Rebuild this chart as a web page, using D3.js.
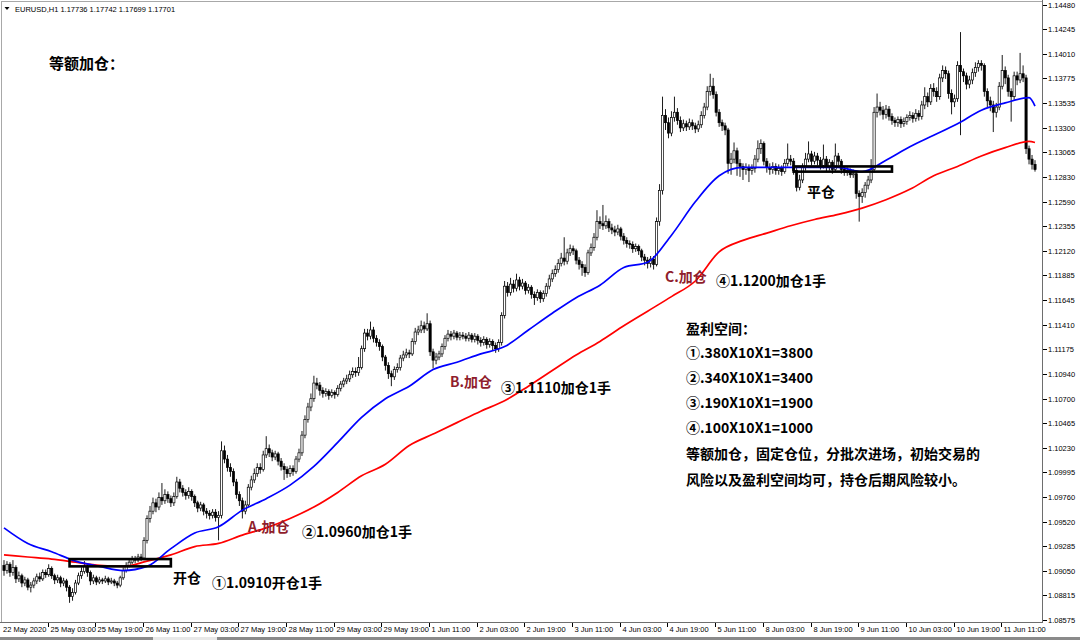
<!DOCTYPE html>
<html>
<head>
<meta charset="utf-8">
<script src="https://cdn.jsdelivr.net/npm/d3@7"></script>
<style>
  html, body { margin: 0; padding: 0; background: #fff; }
  svg { display: block; }
</style>
</head>
<body>
<script>
// ---------------- data (EURUSD H1) ----------------
const firstOpen = 1.0910;
const closes = [
1.0905,1.0911,1.0903,1.0908,1.0897,1.0900,1.0893,1.0896,1.0889,1.0891,
1.0895,1.0899,1.0897,1.0903,1.0901,1.0907,1.0900,1.0896,1.0898,1.0893,
1.0895,1.0889,1.0880,1.0884,1.0893,1.0900,1.0904,1.0909,1.0903,1.0895,
1.0898,1.0894,1.0896,1.0895,1.0897,1.0894,1.0895,1.0893,1.0891,1.0898,
1.0905,1.0910,1.0913,1.0916,1.0915,1.0918,1.0917,1.0934,1.0955,1.0962,
1.0970,1.0966,1.0975,1.0972,1.0978,1.0974,1.0970,1.0976,1.0990,1.0984,
1.0980,1.0977,1.0981,1.0976,1.0970,1.0965,1.0968,1.0962,1.0960,1.0958,
1.0961,1.0956,1.0958,1.1020,1.1012,1.1004,1.1000,1.0990,1.0978,1.0972,
1.0962,1.0968,1.0985,1.0992,1.0998,1.1004,1.1002,1.1016,1.1022,1.1018,
1.1014,1.1017,1.1010,1.1005,1.1002,1.0998,1.1003,1.1000,1.1012,1.1018,
1.1035,1.1050,1.1062,1.1070,1.1085,1.1083,1.1078,1.1075,1.1077,1.1073,
1.1076,1.1074,1.1080,1.1084,1.1087,1.1089,1.1093,1.1096,1.1095,1.1100,
1.1118,1.1133,1.1130,1.1136,1.1128,1.1124,1.1120,1.1110,1.1102,1.1094,
1.1091,1.1098,1.1100,1.1109,1.1112,1.1114,1.1113,1.1125,1.1134,1.1136,
1.1140,1.1137,1.1142,1.1115,1.1107,1.1110,1.1113,1.1120,1.1128,1.1132,
1.1130,1.1133,1.1129,1.1131,1.1130,1.1128,1.1131,1.1127,1.1130,1.1126,
1.1124,1.1127,1.1122,1.1125,1.1121,1.1118,1.1124,1.1150,1.1178,1.1172,
1.1180,1.1176,1.1184,1.1178,1.1181,1.1174,1.1177,1.1170,1.1167,1.1172,
1.1166,1.1171,1.1178,1.1185,1.1190,1.1194,1.1200,1.1205,1.1202,1.1210,
1.1214,1.1212,1.1203,1.1199,1.1196,1.1191,1.1210,1.1215,1.1225,1.1240,
1.1238,1.1236,1.1240,1.1234,1.1232,1.1230,1.1233,1.1226,1.1222,1.1219,
1.1218,1.1214,1.1216,1.1212,1.1206,1.1203,1.1200,1.1204,1.1199,1.1240,
1.1270,1.1342,1.1335,1.1325,1.1340,1.1345,1.1337,1.1330,1.1334,1.1331,
1.1335,1.1332,1.1329,1.1333,1.1342,1.1350,1.1365,1.1370,1.1362,1.1345,
1.1335,1.1332,1.1328,1.1296,1.1300,1.1308,1.1296,1.1293,1.1290,1.1292,
1.1289,1.1291,1.1300,1.1310,1.1315,1.1298,1.1292,1.1290,1.1293,1.1289,
1.1291,1.1288,1.1296,1.1300,1.1298,1.1289,1.1273,1.1280,1.1292,1.1300,
1.1305,1.1298,1.1303,1.1299,1.1294,1.1300,1.1292,1.1297,1.1290,1.1303,
1.1298,1.1290,1.1287,1.1289,1.1285,1.1286,1.1267,1.1264,1.1268,1.1275,
1.1280,1.1290,1.1345,1.1350,1.1347,1.1343,1.1348,1.1341,1.1337,1.1335,
1.1338,1.1334,1.1336,1.1340,1.1342,1.1339,1.1344,1.1341,1.1352,1.1360,
1.1355,1.1368,1.1365,1.1360,1.1378,1.1385,1.1382,1.1363,1.1355,1.1358,
1.1390,1.1384,1.1380,1.1372,1.1376,1.1383,1.1388,1.1392,1.1390,1.1365,
1.1356,1.1352,1.1345,1.1350,1.1370,1.1385,1.1378,1.1365,1.1360,1.1380,
1.1376,1.1382,1.1378,1.1310,1.1300,1.1295,1.1290
];
const highs = [
1.0915,1.0914,1.0913,1.0915,1.0910,1.0904,1.0902,1.0899,1.0898,1.0894,
1.0898,1.0902,1.0903,1.0906,1.0906,1.0911,1.0909,1.0902,1.0901,1.0900,
1.0898,1.0897,1.0891,1.0888,1.0896,1.0903,1.0908,1.0914,1.0912,1.0905,
1.0901,1.0900,1.0899,1.0898,1.0900,1.0899,1.0898,1.0897,1.0895,1.0900,
1.0908,1.0913,1.0916,1.0919,1.0919,1.0921,1.0921,1.0937,1.0958,1.0967,
1.0975,1.0974,1.0980,1.0989,1.0983,1.0981,1.0977,1.0980,1.0995,1.0993,
1.0987,1.0983,1.0985,1.0983,1.0978,1.0972,1.0971,1.0970,1.0965,1.0963,
1.0964,1.0964,1.0962,1.1029,1.1025,1.1016,1.1008,1.1003,1.0993,1.0981,
1.0975,1.0972,1.0988,1.0996,1.1003,1.1008,1.1008,1.1020,1.1034,1.1026,
1.1021,1.1020,1.1019,1.1013,1.1008,1.1005,1.1006,1.1006,1.1015,1.1022,
1.1039,1.1054,1.1066,1.1075,1.1092,1.1090,1.1086,1.1081,1.1080,1.1079,
1.1079,1.1078,1.1083,1.1087,1.1090,1.1093,1.1097,1.1100,1.1100,1.1110,
1.1121,1.1137,1.1137,1.1144,1.1139,1.1131,1.1127,1.1122,1.1112,1.1105,
1.1097,1.1101,1.1104,1.1112,1.1116,1.1118,1.1117,1.1128,1.1138,1.1140,
1.1145,1.1144,1.1152,1.1145,1.1118,1.1114,1.1116,1.1123,1.1131,1.1136,
1.1135,1.1136,1.1135,1.1134,1.1134,1.1133,1.1134,1.1133,1.1133,1.1132,
1.1129,1.1130,1.1129,1.1128,1.1127,1.1124,1.1127,1.1153,1.1183,1.1182,
1.1186,1.1184,1.1190,1.1187,1.1185,1.1183,1.1180,1.1179,1.1173,1.1175,
1.1174,1.1174,1.1181,1.1189,1.1194,1.1198,1.1204,1.1210,1.1225,1.1214,
1.1218,1.1217,1.1214,1.1206,1.1202,1.1199,1.1213,1.1219,1.1229,1.1251,
1.1245,1.1256,1.1246,1.1243,1.1238,1.1236,1.1237,1.1235,1.1229,1.1225,
1.1222,1.1221,1.1219,1.1218,1.1214,1.1209,1.1206,1.1207,1.1207,1.1244,
1.1276,1.1360,1.1348,1.1340,1.1346,1.1360,1.1349,1.1341,1.1338,1.1337,
1.1339,1.1338,1.1335,1.1337,1.1346,1.1354,1.1370,1.1382,1.1378,1.1365,
1.1348,1.1338,1.1335,1.1330,1.1306,1.1316,1.1311,1.1300,1.1296,1.1296,
1.1295,1.1295,1.1304,1.1318,1.1319,1.1317,1.1301,1.1296,1.1297,1.1296,
1.1295,1.1294,1.1300,1.1315,1.1304,1.1301,1.1292,1.1285,1.1296,1.1306,
1.1317,1.1308,1.1307,1.1306,1.1302,1.1314,1.1303,1.1300,1.1299,1.1315,
1.1306,1.1300,1.1293,1.1292,1.1291,1.1290,1.1289,1.1270,1.1272,1.1278,
1.1284,1.1300,1.1350,1.1363,1.1355,1.1351,1.1352,1.1351,1.1344,1.1340,
1.1341,1.1341,1.1340,1.1343,1.1346,1.1345,1.1348,1.1347,1.1356,1.1369,
1.1364,1.1372,1.1373,1.1369,1.1382,1.1390,1.1389,1.1385,1.1367,1.1362,
1.1394,1.1422,1.1387,1.1383,1.1380,1.1387,1.1393,1.1395,1.1395,1.1392,
1.1368,1.1360,1.1356,1.1354,1.1374,1.1400,1.1389,1.1381,1.1368,1.1384,
1.1384,1.1402,1.1390,1.1381,1.1313,1.1304,1.1299
];
const lows = [
1.0900,1.0902,1.0899,1.0900,1.0893,1.0894,1.0889,1.0890,1.0886,1.0884,
1.0888,1.0892,1.0894,1.0895,1.0898,1.0899,1.0897,1.0892,1.0893,1.0889,
1.0890,1.0885,1.0874,1.0876,1.0882,1.0891,1.0897,1.0902,1.0899,1.0891,
1.0892,1.0891,1.0892,1.0892,1.0893,1.0891,1.0892,1.0890,1.0888,1.0889,
1.0896,1.0903,1.0908,1.0911,1.0912,1.0913,1.0914,1.0915,1.0931,1.0951,
1.0959,1.0961,1.0963,1.0968,1.0969,1.0970,1.0966,1.0967,1.0974,1.0980,
1.0976,1.0973,1.0974,1.0972,1.0966,1.0961,1.0962,1.0958,1.0955,1.0954,
1.0955,1.0952,1.0934,1.0955,1.1008,1.1000,1.0995,1.0986,1.0974,1.0967,
1.0955,1.0959,1.0966,1.0982,1.0989,1.0995,1.0998,1.1000,1.1013,1.1014,
1.1010,1.1011,1.1006,1.1001,1.0992,1.0994,1.0995,1.0996,1.0998,1.1009,
1.1015,1.1032,1.1047,1.1058,1.1067,1.1079,1.1073,1.1071,1.1072,1.1069,
1.1071,1.1070,1.1072,1.1077,1.1081,1.1084,1.1086,1.1090,1.1091,1.1092,
1.1098,1.1115,1.1126,1.1127,1.1124,1.1120,1.1116,1.1106,1.1097,1.1089,
1.1082,1.1088,1.1095,1.1097,1.1106,1.1109,1.1109,1.1111,1.1122,1.1131,
1.1133,1.1133,1.1135,1.1111,1.1099,1.1103,1.1107,1.1110,1.1117,1.1125,
1.1126,1.1127,1.1126,1.1126,1.1127,1.1125,1.1125,1.1124,1.1124,1.1122,
1.1120,1.1121,1.1118,1.1119,1.1116,1.1114,1.1115,1.1121,1.1147,1.1168,
1.1169,1.1172,1.1173,1.1174,1.1175,1.1170,1.1171,1.1166,1.1160,1.1164,
1.1162,1.1163,1.1168,1.1175,1.1182,1.1187,1.1191,1.1197,1.1198,1.1199,
1.1207,1.1208,1.1199,1.1194,1.1188,1.1187,1.1189,1.1207,1.1212,1.1222,
1.1233,1.1232,1.1233,1.1230,1.1228,1.1226,1.1227,1.1222,1.1218,1.1215,
1.1214,1.1210,1.1211,1.1208,1.1202,1.1198,1.1195,1.1196,1.1194,1.1197,
1.1236,1.1266,1.1328,1.1320,1.1322,1.1336,1.1333,1.1326,1.1327,1.1327,
1.1328,1.1328,1.1325,1.1326,1.1330,1.1339,1.1347,1.1361,1.1358,1.1341,
1.1331,1.1327,1.1323,1.1286,1.1285,1.1296,1.1284,1.1283,1.1280,1.1285,
1.1278,1.1285,1.1287,1.1297,1.1305,1.1294,1.1287,1.1285,1.1286,1.1285,
1.1285,1.1284,1.1286,1.1293,1.1294,1.1285,1.1269,1.1270,1.1277,1.1289,
1.1297,1.1294,1.1295,1.1294,1.1290,1.1291,1.1288,1.1289,1.1286,1.1288,
1.1294,1.1286,1.1284,1.1284,1.1282,1.1282,1.1262,1.1240,1.1258,1.1263,
1.1271,1.1277,1.1287,1.1340,1.1342,1.1338,1.1339,1.1337,1.1333,1.1331,
1.1331,1.1330,1.1331,1.1333,1.1337,1.1335,1.1336,1.1337,1.1338,1.1348,
1.1350,1.1352,1.1360,1.1355,1.1357,1.1374,1.1377,1.1358,1.1343,1.1350,
1.1355,1.1323,1.1374,1.1367,1.1368,1.1372,1.1379,1.1384,1.1385,1.1360,
1.1350,1.1346,1.1326,1.1340,1.1347,1.1367,1.1372,1.1360,1.1336,1.1357,
1.1371,1.1373,1.1374,1.1305,1.1295,1.1290,1.1288
];

// moving averages, sampled every 8 bars
const maBars = [0,8,16,24,32,40,48,56,64,72,80,88,96,104,112,120,128,136,144,152,160,168,176,184,192,200,208,216,224,232,240,248,256,264,272,280,288,296,304,312,320,328,336,344,346];
const blueMA = [1.0946,1.0931,1.0923,1.0914,1.0909,1.0905,1.0909,1.0926,1.0941,1.0947,1.0963,1.0974,1.0987,1.1005,1.1028,1.1052,1.1070,1.1082,1.1098,1.1105,1.1113,1.1120,1.1136,1.1152,1.1167,1.1179,1.1196,1.1201,1.1227,1.1259,1.1284,1.1292,1.1292,1.1292,1.1292,1.1292,1.1288,1.1299,1.1312,1.1323,1.1334,1.1347,1.1354,1.1359,1.1351];
const redMA = [1.0920,1.0918,1.0916,1.0913,1.0910,1.0909,1.0914,1.0920,1.0928,1.0931,1.0939,1.0946,1.0955,1.0966,1.0980,1.0996,1.1007,1.1025,1.1036,1.1047,1.1058,1.1068,1.1082,1.1097,1.1112,1.1125,1.1140,1.1154,1.1168,1.1183,1.1211,1.1222,1.1229,1.1236,1.1242,1.1247,1.1253,1.1261,1.1271,1.1284,1.1293,1.1303,1.1311,1.1317,1.1316];

// axis tick labels
const yTickLabels = ["1.14480","1.14245","1.14010","1.13775","1.13535","1.13300","1.13065","1.12830","1.12590","1.12355","1.12120","1.11885","1.11645","1.11410","1.11175","1.10940","1.10700","1.10465","1.10230","1.09995","1.09760","1.09520","1.09285","1.09050","1.08815","1.08575"];
const xTickLabels = ["22 May 2020","25 May 03:00","25 May 19:00","26 May 11:00","27 May 03:00","27 May 19:00","28 May 11:00","29 May 03:00","29 May 19:00","1 Jun 11:00","2 Jun 03:00","2 Jun 19:00","3 Jun 11:00","4 Jun 03:00","4 Jun 19:00","5 Jun 11:00","8 Jun 03:00","8 Jun 19:00","9 Jun 11:00","10 Jun 03:00","10 Jun 19:00","11 Jun 11:00"];
const xTickBars = [0,15,31,47,63,79,95,111,127,143,159,175,191,207,223,239,255,271,287,303,319,335];

// position boxes (entry / exit zones)
const boxStartBar = [22, 265];
const boxEndBar = [56, 298];
const boxHigh = [1.0916, 1.1293];
const boxLow = [1.0909, 1.1288];

const headerText = "EURUSD,H1  1.17736 1.17742 1.17699 1.17701";
const infoLines = ["盈利空间：","①.380X10X1=3800","②.340X10X1=3400","③.190X10X1=1900","④.100X10X1=1000","等额加仓，固定仓位，分批次进场，初始交易的","风险以及盈利空间均可，持仓后期风险较小。"];

// ---------------- drawing ----------------
const W = 1080, H = 640;
const plotRight = 1042, plotBottom = 622;
const svg = d3.select("body").append("svg").attr("width", W).attr("height", H);
svg.append("rect").attr("width", W).attr("height", H).attr("fill", "#fff");

const x = d3.scaleLinear().domain([0, closes.length - 1]).range([4, 1035]);
const y = d3.scaleLinear().domain([1.08575, 1.14480]).range([620, 5]);

const CJK = "'Noto Sans CJK SC','Noto Sans',sans-serif";
const LAT = "'Liberation Sans',Arial,sans-serif";

const plot = svg.append("g");
plot.append("clipPath").attr("id","clip").append("rect")
  .attr("x", 0).attr("y", 0).attr("width", plotRight).attr("height", plotBottom);
const inner = plot.append("g").attr("clip-path","url(#clip)");

// candles
const bars = closes.map((c, i) => ({
  i, c, h: highs[i], l: lows[i], o: i === 0 ? firstOpen : closes[i - 1]
}));
const bw = 2.2;
const cg = inner.append("g");
cg.selectAll("line.wick").data(bars).enter().append("line")
  .attr("x1", d => x(d.i)).attr("x2", d => x(d.i))
  .attr("y1", d => y(d.h)).attr("y2", d => y(d.l))
  .attr("stroke", "#000").attr("stroke-width", 0.9);
cg.selectAll("rect.body").data(bars).enter().append("rect")
  .attr("x", d => x(d.i) - bw / 2)
  .attr("y", d => y(Math.max(d.o, d.c)))
  .attr("width", bw)
  .attr("height", d => Math.max(0.8, Math.abs(y(d.o) - y(d.c))))
  .attr("fill", d => d.c >= d.o ? "#fff" : "#000")
  .attr("stroke", "#000").attr("stroke-width", 0.7);

// moving averages
const maLine = vals => d3.line().x((d, k) => x(maBars[k])).y(d => y(d)).curve(d3.curveMonotoneX)(vals);
inner.append("path").attr("d", maLine(redMA)).attr("fill","none").attr("stroke","#ff0000").attr("stroke-width",1.7);
inner.append("path").attr("d", maLine(blueMA)).attr("fill","none").attr("stroke","#0000ff").attr("stroke-width",1.7);

// boxes
boxStartBar.forEach((b, k) => {
  inner.append("rect")
    .attr("x", x(b)).attr("y", y(boxHigh[k]))
    .attr("width", x(boxEndBar[k]) - x(b))
    .attr("height", y(boxLow[k]) - y(boxHigh[k]))
    .attr("fill", "none").attr("stroke", "#000").attr("stroke-width", 2.6);
});

// frame + axes
svg.append("line").attr("x1",1.5).attr("x2",1.5).attr("y1",1).attr("y2",plotBottom).attr("stroke","#a8a8a8");
svg.append("line").attr("x1",1).attr("x2",plotRight).attr("y1",1.5).attr("y2",1.5).attr("stroke","#a8a8a8");
svg.append("line").attr("x1",plotRight+0.5).attr("x2",plotRight+0.5).attr("y1",0).attr("y2",plotBottom+1).attr("stroke","#6e6e6e");
svg.append("line").attr("x1",0).attr("x2",plotRight+1).attr("y1",plotBottom+0.5).attr("y2",plotBottom+0.5).attr("stroke","#6e6e6e");
svg.append("rect").attr("x",0).attr("y",637).attr("width",W).attr("height",3).attr("fill","#8a8a8a");
svg.append("rect").attr("x",153).attr("y",637).attr("width",64).attr("height",3).attr("fill","#e8e8e8");

const yAxis = svg.append("g");
yTickLabels.forEach(t => {
  const v = +t, yy = Math.round(y(v)) + 0.5;
  yAxis.append("line").attr("x1", plotRight+1).attr("x2", plotRight+5).attr("y1", yy).attr("y2", yy).attr("stroke","#000");
  yAxis.append("text").attr("x", plotRight+6).attr("y", yy).attr("dy","0.35em")
    .attr("font-family", LAT).attr("font-size", 7.5).attr("fill","#000").text(t);
});
const xAxis = svg.append("g");
xTickLabels.forEach((t, k) => {
  const xx = Math.round(x(xTickBars[k])) - 0.5;
  if (k > 0) xAxis.append("line").attr("x1", xx).attr("x2", xx).attr("y1", plotBottom+1).attr("y2", plotBottom+5).attr("stroke","#000");
  xAxis.append("text").attr("x", k === 0 ? 3 : xx + 2).attr("y", 629).attr("dy","0.35em")
    .attr("font-family", LAT).attr("font-size", 7.5).attr("fill","#000").text(t);
});

// header
svg.append("path").attr("d","M4.5,7 L9.5,7 L7,10 Z").attr("fill","#000");
svg.append("text").attr("x", 15).attr("y", 9).attr("dy","0.35em")
  .attr("font-family", LAT).attr("font-size", 7.5).attr("fill","#000").text(headerText);

// annotations
const notes = [
  {t:"等额加仓：", x:49, y:64, s:15, c:"#000"},
  {t:"开仓", x:173, y:578, s:14, c:"#000"},
  {t:"①1.0910开仓1手", x:212, y:583, s:14, c:"#000"},
  {t:"A.加仓", x:248, y:527, s:14, c:"#8f1d2c"},
  {t:"②1.0960加仓1手", x:302, y:532, s:14, c:"#000"},
  {t:"B.加仓", x:450, y:382, s:14, c:"#8f1d2c"},
  {t:"③1.1110加仓1手", x:501, y:388, s:14, c:"#000"},
  {t:"C.加仓", x:665, y:277, s:14, c:"#8f1d2c"},
  {t:"④1.1200加仓1手", x:716, y:281, s:14, c:"#000"},
  {t:"平仓", x:807, y:192, s:14, c:"#000"}
];
notes.forEach(n => svg.append("text").attr("x", n.x).attr("y", n.y).attr("dy","0.36em")
  .attr("font-family", CJK).attr("font-weight", "bold").attr("font-size", n.s)
  .attr("fill", n.c).text(n.t));

const infoY = [329, 353, 378, 403, 428, 454, 480];
infoLines.forEach((t, k) => svg.append("text").attr("x", 686).attr("y", infoY[k]).attr("dy","0.36em")
  .attr("font-family", CJK).attr("font-weight","bold").attr("font-size", 14).attr("fill","#000").text(t));
</script>
</body>
</html>
